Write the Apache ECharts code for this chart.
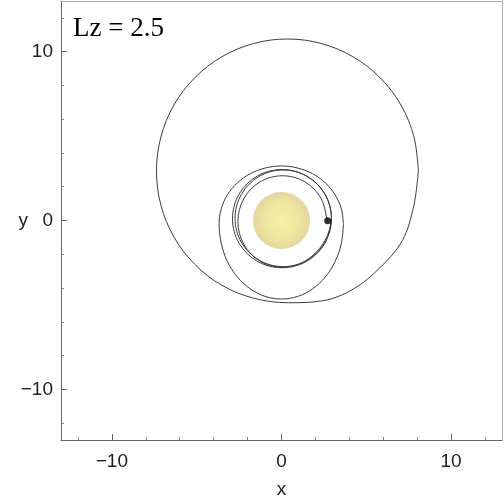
<!DOCTYPE html>
<html>
<head>
<meta charset="utf-8">
<script src="https://cdn.jsdelivr.net/npm/echarts@6/dist/echarts.min.js"></script>
<style>
  html, body { margin: 0; padding: 0; background: #fff; }
  #chart { width: 504px; height: 504px; }
</style>
</head>
<body>
<div id="chart"></div>
<script>
// tick positions
var majorTicks = [-10, 0, 10];
var minorTicks = [-12, -8, -6, -4, -2, 2, 4, 6, 8, 12];

// orbit: three tight inner turns starting at the dot
var innerTurns = [
    [2.69, -0.06], [2.34, 1.30], [1.38, 2.29], [0.06, 2.65], [-1.26, 2.29], [-2.22, 1.30],
    [-2.57, -0.06], [-2.22, -1.42], [-1.26, -2.41], [0.06, -2.77], [1.38, -2.41], [2.45, -1.37],
    [2.94, 0.13], [2.56, 1.56], [1.52, 2.61], [0.10, 2.99], [-1.32, 2.61], [-2.36, 1.56],
    [-2.74, 0.13], [-2.36, -1.30], [-1.32, -2.35], [0.10, -2.73], [1.52, -2.35], [2.56, -1.30],
    [2.95, 0.11], [2.56, 1.57], [1.49, 2.63], [0.03, 3.02], [-1.43, 2.63], [-2.50, 1.57],
    [-2.89, 0.11], [-2.50, -1.35], [-1.43, -2.41], [0.03, -2.80], [1.49, -2.41], [2.56, -1.35],
    [2.95, 0.11]
];
// the middle loop, stretched downwards
var middleLoop = [
    [3.65, -0.20], [3.53, 0.69], [3.16, 1.52], [2.58, 2.23], [1.83, 2.77], [0.95, 3.11],
    [0.00, 3.23], [-0.95, 3.11], [-1.84, 2.77], [-2.60, 2.23], [-3.19, 1.52], [-3.55, 0.69],
    [-3.68, -0.20], [-3.55, -1.35], [-3.19, -2.43], [-2.60, -3.35], [-1.84, -4.05], [-0.95, -4.50],
    [0.00, -4.65], [0.95, -4.50], [1.83, -4.05], [2.58, -3.35], [3.16, -2.43], [3.53, -1.35],
    [3.65, -0.20]
];
// the big outer loop, a bit fuller towards the lower right
var outerLoop = [
    [8.07, 2.93], [7.81, 4.95], [7.04, 6.84], [5.81, 8.46], [4.21, 9.70], [2.35, 10.48],
    [0.35, 10.75], [-1.65, 10.48], [-3.51, 9.70], [-5.11, 8.46], [-6.34, 6.84], [-7.11, 4.95],
    [-7.37, 2.93], [-7.11, 0.91], [-6.34, -0.98], [-5.11, -2.60], [-3.51, -3.84], [-1.65, -4.60],
    [0.40, -4.87], [2.45, -4.75], [4.25, -4.05], [5.80, -2.80], [7.12, -1.20], [7.80, 0.88],
    [8.07, 2.93]
];
var sunCenter = [[0, 0]];
var particle = [[2.72, -0.02]];

var myChart = echarts.init(document.getElementById('chart'));

var minus = function (v) {
    return String(v).replace('-', '\u2212');
};

var lineStyle = { color: '#3c3c3c', width: 1 };
var labelFont = { fontFamily: 'Liberation Sans', fontSize: 19, color: '#222' };

var option = {
    animation: false,
    backgroundColor: '#fff',
    title: {
        text: 'Lz = 2.5',
        left: 68,
        top: 10,
        textStyle: {
            fontFamily: 'Liberation Serif',
            fontSize: 27,
            fontWeight: 'normal',
            color: '#000'
        }
    },
    grid: { left: 61, right: 2, top: 1, bottom: 62 },
    xAxis: [
        {
            type: 'value', position: 'bottom', min: -13, max: 13,
            name: 'x', nameLocation: 'middle', nameGap: 40, nameMoveOverlap: false,
            nameTextStyle: labelFont,
            axisLine: { onZero: false, lineStyle: { color: '#666' } },
            axisTick: { inside: true, length: 6, customValues: majorTicks, lineStyle: { color: '#666' } },
            axisLabel: Object.assign({ customValues: majorTicks, margin: 12, formatter: minus }, labelFont),
            splitLine: { show: false }
        },
        {
            type: 'value', position: 'bottom', min: -13, max: 13,
            axisLine: { show: false, onZero: false },
            axisTick: { inside: true, length: 3, customValues: minorTicks, lineStyle: { color: '#888' } },
            axisLabel: { show: false },
            splitLine: { show: false }
        },
        {
            type: 'value', position: 'top', min: -13, max: 13,
            axisLine: { onZero: false, lineStyle: { color: '#aaa' } },
            axisTick: { show: false },
            axisLabel: { show: false },
            splitLine: { show: false }
        }
    ],
    yAxis: [
        {
            type: 'value', position: 'left', min: -13, max: 13,
            name: 'y', nameLocation: 'middle', nameGap: 33, nameRotate: 0, nameMoveOverlap: false,
            nameTextStyle: labelFont,
            axisLine: { onZero: false, lineStyle: { color: '#666' } },
            axisTick: { inside: true, length: 6, customValues: majorTicks, lineStyle: { color: '#666' } },
            axisLabel: Object.assign({ customValues: majorTicks, margin: 8, formatter: minus }, labelFont),
            splitLine: { show: false }
        },
        {
            type: 'value', position: 'left', min: -13, max: 13,
            axisLine: { show: false, onZero: false },
            axisTick: { inside: true, length: 3, customValues: minorTicks, lineStyle: { color: '#888' } },
            axisLabel: { show: false },
            splitLine: { show: false }
        },
        {
            type: 'value', position: 'right', min: -13, max: 13,
            axisLine: { onZero: false, lineStyle: { color: '#aaa' } },
            axisTick: { show: false },
            axisLabel: { show: false },
            splitLine: { show: false }
        }
    ],
    series: [
        {
            name: 'sun', type: 'scatter', data: sunCenter,
            symbolSize: 57,
            itemStyle: {
                color: {
                    type: 'radial', x: 0.5, y: 0.5, r: 0.5,
                    colorStops: [
                        { offset: 0, color: '#f2ea8c' },
                        { offset: 0.6, color: '#ece089' },
                        { offset: 1, color: '#dccb88' }
                    ]
                }
            },
            silent: true
        },
        {
            name: 'inner', type: 'line', data: innerTurns,
            showSymbol: false, smooth: 0.35, lineStyle: lineStyle
        },
        {
            name: 'middle', type: 'line', data: middleLoop,
            showSymbol: false, smooth: 0.35, lineStyle: lineStyle
        },
        {
            name: 'outer', type: 'line', data: outerLoop,
            showSymbol: false, smooth: 0.35, lineStyle: lineStyle
        },
        {
            name: 'particle', type: 'scatter', data: particle,
            symbolSize: 7, itemStyle: { color: '#000' }, z: 5
        }
    ]
};
myChart.setOption(option);
</script>
</body>
</html>
